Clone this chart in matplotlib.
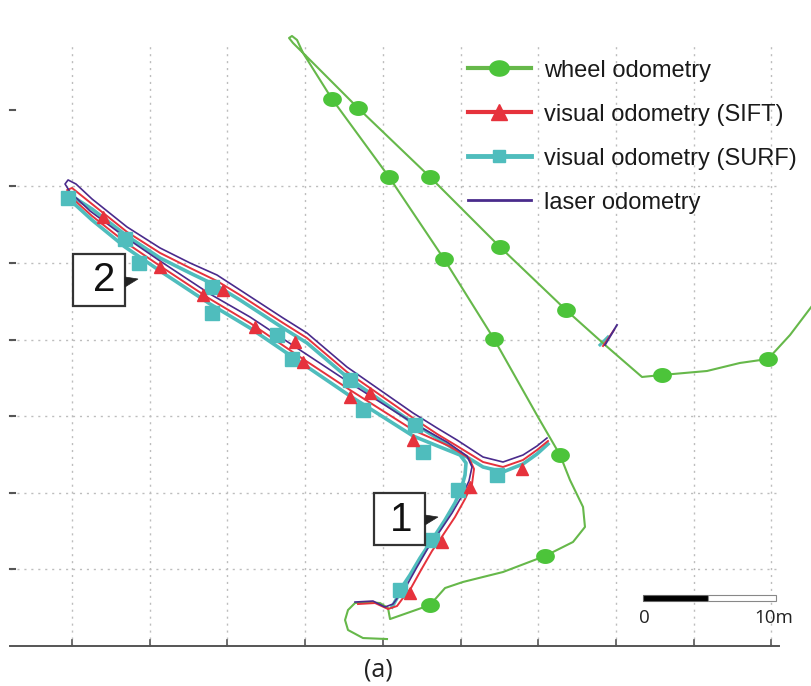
import numpy as np
import matplotlib.pyplot as plt
from matplotlib.path import Path
from matplotlib.lines import Line2D
from matplotlib.patches import Rectangle, Polygon

# ---------------------------------------------------------------------------
# Trajectories (grid units, 1 unit = one grid cell)
# ---------------------------------------------------------------------------
wheel_x = [4.054, 3.745, 3.552, 3.514, 3.552, 3.642, 3.797, 3.964, 4.067, 4.093,
           4.607, 4.801, 5.032, 5.547, 6.088, 6.448, 6.602, 6.577, 6.409, 6.281,
           5.997, 5.431, 4.788, 4.080, 3.346, 2.973, 2.844, 2.793, 2.831, 2.896,
           2.973, 3.681, 4.607, 5.508, 6.358, 6.860, 7.336, 7.593, 8.172, 8.597,
           8.958, 9.241, 9.524]
wheel_y = [0.091, 0.104, 0.209, 0.339, 0.470, 0.561, 0.574, 0.561, 0.496, 0.352,
           0.535, 0.757, 0.836, 0.966, 1.175, 1.358, 1.554, 1.815, 2.167, 2.493,
           2.990, 4.008, 5.052, 6.123, 7.141, 7.742, 7.872, 7.937, 7.963, 7.911,
           7.742, 7.023, 6.123, 5.209, 4.386, 3.930, 3.512, 3.538, 3.590, 3.695,
           3.747, 4.060, 4.439]
wheel_mk_x = [4.607, 6.088, 6.281, 5.431, 4.788, 4.080, 3.346, 3.681, 4.607,
              5.508, 6.358, 7.593, 8.958]
wheel_mk_y = [0.535, 1.175, 2.493, 4.008, 5.052, 6.123, 7.141, 7.023, 6.123,
              5.209, 4.386, 3.538, 3.747]

laser_x = [3.642, 3.874, 4.028, 4.131, 4.196, 4.311, 4.440, 4.582, 4.736, 4.891,
           5.019, 5.109, 5.148, 5.084, 4.826, 4.389, 3.578, 2.934, 2.291, 1.776,
           1.133, 0.682, 0.232, -0.026, -0.090, -0.051, 0.051, 0.257, 0.708, 1.133,
           1.519, 1.866, 2.162, 2.716, 3.024, 3.539, 4.389, 4.698, 4.955, 5.290,
           5.547, 5.804, 5.985, 6.113]
laser_y = [0.574, 0.587, 0.509, 0.548, 0.640, 0.796, 1.031, 1.279, 1.501, 1.736,
           1.958, 2.154, 2.337, 2.480, 2.663, 2.911, 3.433, 3.864, 4.295, 4.595,
           5.026, 5.339, 5.679, 5.927, 6.031, 6.084, 6.031, 5.836, 5.470, 5.196,
           5.000, 4.843, 4.648, 4.282, 4.086, 3.642, 3.042, 2.846, 2.689, 2.467,
           2.402, 2.493, 2.611, 2.715]

sift_x = [3.681, 3.900, 4.067, 4.183, 4.260, 4.363, 4.492, 4.633, 4.775, 4.929,
          5.058, 5.148, 5.174, 5.109, 4.852, 4.389, 3.578, 2.934, 2.291, 1.776,
          1.133, 0.682, 0.257, 0.000, -0.064, 0.000, 0.257, 0.708, 1.133, 1.519,
          1.866, 2.162, 2.716, 3.024, 3.539, 4.389, 4.698, 4.955, 5.290, 5.547,
          5.804, 5.985, 6.126]
sift_y = [0.548, 0.561, 0.483, 0.522, 0.627, 0.757, 0.992, 1.240, 1.449, 1.684,
          1.919, 2.115, 2.311, 2.454, 2.611, 2.820, 3.342, 3.773, 4.217, 4.530,
          4.961, 5.274, 5.614, 5.849, 5.953, 5.979, 5.770, 5.405, 5.131, 4.935,
          4.765, 4.582, 4.217, 4.021, 3.577, 2.977, 2.768, 2.611, 2.402, 2.337,
          2.428, 2.559, 2.676]
sift_mk_x = [0.399, 1.133, 1.686, 1.943, 2.355, 2.870, 2.973, 3.578, 3.835,
             4.389, 5.122, 5.792, 4.762, 4.350]
sift_mk_y = [5.601, 4.948, 4.582, 4.648, 4.164, 3.969, 3.708, 3.251, 3.303,
             2.689, 2.076, 2.311, 1.358, 0.692]

surf_x = [4.118, 4.183, 4.221, 4.350, 4.479, 4.633, 4.801, 4.929, 5.006, 5.058,
          5.071, 4.994, 4.736, 4.389, 3.578, 2.934, 2.291, 1.776, 1.133, 0.682,
          0.257, -0.026, -0.090, -0.026, 0.257, 0.708, 1.133, 1.519, 1.866, 2.162,
          2.716, 3.024, 3.539, 4.389, 4.698, 4.955, 5.290, 5.547, 5.804, 5.985,
          6.126]
surf_y = [0.509, 0.627, 0.731, 0.927, 1.149, 1.384, 1.645, 1.867, 2.037, 2.232,
          2.389, 2.493, 2.598, 2.742, 3.264, 3.708, 4.151, 4.465, 4.896, 5.209,
          5.561, 5.823, 5.875, 5.888, 5.705, 5.352, 5.065, 4.869, 4.700, 4.517,
          4.151, 3.956, 3.512, 2.911, 2.715, 2.546, 2.337, 2.272, 2.376, 2.507,
          2.637]
surf_mk_x = [-0.051, 0.682, 0.862, 1.802, 1.802, 2.638, 2.831, 3.578, 3.745,
             4.414, 4.517, 5.470, 4.968, 4.633, 4.221]
surf_mk_y = [5.849, 5.313, 5.000, 4.687, 4.347, 4.060, 3.747, 3.473, 3.081,
             2.885, 2.533, 2.232, 2.037, 1.384, 0.731]

# short stray segments near the wheel track
laser_stub_x, laser_stub_y = [6.860, 7.014], [3.930, 4.191]
sift_stub_x, sift_stub_y = [6.834, 6.976], [3.916, 4.125]
surf_stub_x, surf_stub_y = [6.795, 6.898], [3.930, 4.034]

labels = ["wheel odometry", "visual odometry (SIFT)", "visual odometry (SURF)", "laser odometry"]
grid_x = list(range(10))
grid_y = list(range(1, 7))
tick_y = list(range(1, 8))

GREEN_LINE = "#66b84a"
GREEN_MK = "#4cc43a"
RED = "#e6323c"
CYAN = "#4fbdbd"
PURPLE = "#4a2b8c"

# ellipse marker (wheel odometry dots are slightly wider than tall)
t = np.linspace(0, 2 * np.pi, 40)
ellipse = Path(np.column_stack([np.cos(t), 0.78 * np.sin(t)]), closed=True)

fig = plt.figure(figsize=(8.12, 6.86), dpi=100)
ax = fig.add_axes([0, 0, 1, 1])
ax.set_xlim(-0.927, 9.524)
ax.set_ylim(-0.522, 8.433)
ax.axis("off")

# grid, axis line and ticks
for gx in grid_x:
    ax.plot([gx, gx], [0, 7.85], color="#bdbdbd", lw=1, ls=(0, (1.5, 3.5)), zorder=0)
for gy in grid_y:
    ax.plot([-0.8, 9.1], [gy, gy], color="#bdbdbd", lw=1, ls=(0, (1.5, 3.5)), zorder=0)
ax.plot([-0.8, 9.1], [0, 0], color="#555555", lw=1.4, zorder=1)
for gx in grid_x:
    ax.plot([gx, gx], [0, 0.08], color="#555555", lw=1.2, zorder=1)
for gy in tick_y:
    ax.plot([-0.8, -0.74], [gy, gy], color="#555555", lw=1.5, zorder=1)

# trajectories
ax.plot(surf_x, surf_y, color=CYAN, lw=2.6, zorder=2)
ax.plot(sift_x, sift_y, color=RED, lw=1.4, zorder=3)
ax.plot(laser_x, laser_y, color=PURPLE, lw=1.2, zorder=4)
ax.plot(surf_stub_x, surf_stub_y, color=CYAN, lw=2.2, zorder=2)
ax.plot(sift_stub_x, sift_stub_y, color=RED, lw=1.4, zorder=3)
ax.plot(laser_stub_x, laser_stub_y, color=PURPLE, lw=1.4, zorder=4)
ax.plot(surf_mk_x, surf_mk_y, ls="none", marker="s", ms=10, color=CYAN, zorder=5)
ax.plot(sift_mk_x, sift_mk_y, ls="none", marker="^", ms=9, color=RED, zorder=5)
ax.plot(wheel_x, wheel_y, color=GREEN_LINE, lw=1.5, zorder=2)
ax.plot(wheel_mk_x, wheel_mk_y, ls="none", marker=ellipse, ms=12.5, color=GREEN_MK, zorder=5)

# legend
handles = [
    Line2D([], [], color=GREEN_LINE, lw=3, marker=ellipse, ms=14, markerfacecolor=GREEN_MK,
           markeredgecolor=GREEN_MK),
    Line2D([], [], color=RED, lw=3, marker="^", ms=11),
    Line2D([], [], color=CYAN, lw=3.5, marker="s", ms=8),
    Line2D([], [], color=PURPLE, lw=2),
]
leg = ax.legend(handles, labels, loc="upper left", bbox_to_anchor=(0.576, 0.913),
                bbox_transform=fig.transFigure, frameon=False, numpoints=1,
                prop={"family": "Liberation Sans", "size": 17},
                handlelength=2.67, handletextpad=0.55, labelspacing=0.93,
                borderpad=0, borderaxespad=0)
for txt in leg.get_texts():
    txt.set_color("#1a1a1a")

# numbered callouts
for (x0, y0, w, h), tri, num, (nx, ny) in [
    ((0.013, 4.439, 0.669, 0.678), [(0.682, 4.817), (0.682, 4.687), (0.849, 4.791)], "2", (0.412, 4.78)),
    ((3.887, 1.319, 0.656, 0.678), [(4.543, 1.710), (4.543, 1.580), (4.710, 1.684)], "1", (4.23, 1.648)),
]:
    ax.add_patch(Rectangle((x0, y0), w, h, facecolor="white", edgecolor="#333333", lw=1.6, zorder=6))
    ax.add_patch(Polygon(tri, closed=True, facecolor="#222222", edgecolor="#222222", lw=0.5, zorder=6))
    ax.text(nx, ny, num, ha="center", va="center", fontsize=29, family="Liberation Sans",
            color="#111111", zorder=7)

# scale bar
ax.add_patch(Rectangle((7.349, 0.588), 0.836, 0.078, facecolor="black", edgecolor="#666666", lw=0.8, zorder=6))
ax.add_patch(Rectangle((8.185, 0.588), 0.875, 0.078, facecolor="white", edgecolor="#888888", lw=0.8, zorder=6))
ax.text(7.362, 0.36, "0", ha="center", va="center", fontsize=13.5, family="Open Sans", color="#222222")
ax.text(9.03, 0.36, "10m", ha="center", va="center", fontsize=13.5, family="Open Sans", color="#222222")

ax.text(3.938, -0.313, "(a)", ha="center", va="center", fontsize=18, family="Open Sans", color="#222222")

plt.savefig("out.png", dpi=100)
